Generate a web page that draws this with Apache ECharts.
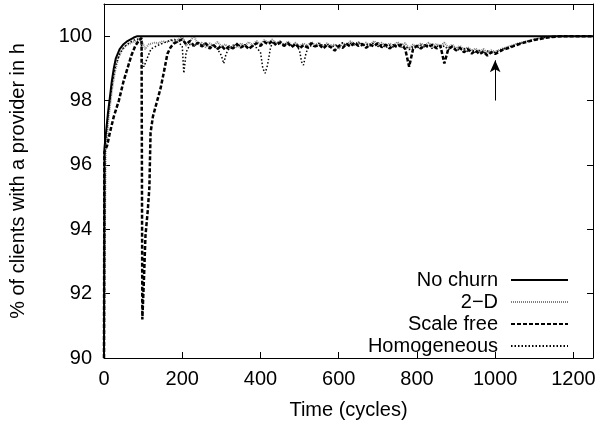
<!DOCTYPE html>
<html>
<head>
<meta charset="utf-8">
<script src="https://cdn.jsdelivr.net/npm/echarts@6/dist/echarts.min.js"></script>
<style>
  html, body { margin: 0; padding: 0; background: #fff; }
  #chart { width: 601px; height: 425px; }
</style>
</head>
<body>
<div id="chart"></div>
<script>
// data: [cycle, % of clients with a provider]
const noChurn = [
  [0, 90], [1, 96.5], [5, 97.0], [10, 97.6], [15, 98.1], [20, 98.6], [25, 99.0],
  [30, 99.3], [40, 99.6], [50, 99.75], [60, 99.85], [75, 99.95], [85, 100], [1250, 100]
];

const twoD = [
  [0, 90], [4, 96.5], [8, 96.9], [12, 97.5], [20, 98.3], [28, 98.9], [36, 99.3],
  [45, 99.55], [55, 99.7], [70, 99.8], [85, 99.85], [95, 99.9], [105, 99.6],
  [115, 99.75], [130, 99.8],
  [140, 99.78], [150, 99.85], [160, 99.8], [170, 99.88], [180, 99.82], [190, 99.9],
  [200, 100.0], [210, 99.7], [220, 99.85], [230, 100.0], [240, 99.75], [250, 99.8],
  [260, 99.65], [270, 99.78], [280, 99.7], [290, 99.82], [300, 99.68], [310, 99.75],
  [320, 99.6], [330, 99.72], [340, 99.65], [350, 99.78], [360, 99.7], [370, 99.82],
  [380, 99.72], [390, 99.85], [400, 99.75], [410, 99.88], [420, 99.8], [430, 99.9],
  [440, 99.78], [450, 99.85], [460, 99.72], [470, 99.84], [480, 99.7], [490, 99.8],
  [500, 99.68], [510, 99.78], [520, 99.7], [530, 99.82], [540, 99.72], [550, 99.8],
  [560, 99.66], [570, 99.78], [580, 99.7], [590, 99.75], [600, 99.6], [610, 99.78],
  [620, 99.72], [630, 99.84], [640, 99.75], [650, 99.82], [660, 99.7], [670, 99.8],
  [680, 99.72], [690, 99.85], [700, 99.74], [710, 99.8], [720, 99.68], [730, 99.78],
  [740, 99.7], [750, 99.82], [760, 99.72], [770, 99.78], [780, 99.62], [790, 99.74],
  [800, 99.66], [810, 99.78], [820, 99.7], [830, 99.8], [840, 99.68], [850, 99.76],
  [860, 99.7], [870, 99.8], [880, 99.65], [890, 99.74], [900, 99.62], [910, 99.7],
  [920, 99.58], [930, 99.66], [940, 99.55], [950, 99.62], [960, 99.5], [970, 99.6],
  [980, 99.48], [990, 99.56], [1000, 99.52],
  [1020, 99.62], [1040, 99.7], [1060, 99.78], [1080, 99.84], [1100, 99.9],
  [1120, 99.95], [1140, 99.98], [1160, 100], [1250, 100]
];

const scaleFree = [
  [0, 90], [1, 96.4], [8, 96.6], [15, 97.0], [25, 97.5], [38, 98.0], [50, 98.6],
  [60, 99.0], [70, 99.4], [80, 99.7], [90, 99.88], [96, 99.95],
  [98, 91.2], [102, 92.4], [106, 93.8], [112, 94.6], [116, 95.3], [119, 97.0],
  [125, 97.5], [135, 97.95], [145, 98.4], [155, 99.0], [162, 99.45], [170, 99.65],
  [178, 99.77], [190, 99.85],
  [200, 99.9], [210, 99.75], [220, 99.85], [230, 99.7], [240, 99.8], [250, 99.68],
  [260, 99.78], [270, 99.62], [280, 99.72], [290, 99.6], [300, 99.7], [310, 99.58],
  [320, 99.68], [330, 99.62], [340, 99.75], [350, 99.65], [360, 99.72], [370, 99.6],
  [380, 99.7], [390, 99.78], [400, 99.7], [410, 99.82], [420, 99.75], [430, 99.85],
  [440, 99.72], [450, 99.8], [460, 99.7], [470, 99.78], [480, 99.66], [490, 99.76],
  [500, 99.62], [510, 99.72], [520, 99.65], [530, 99.78], [540, 99.68], [550, 99.74],
  [560, 99.62], [570, 99.72], [580, 99.66], [590, 99.55], [600, 99.7], [610, 99.64],
  [620, 99.76], [630, 99.68], [640, 99.8], [650, 99.7], [660, 99.76], [670, 99.64],
  [680, 99.74], [690, 99.68], [700, 99.78], [710, 99.66], [720, 99.74], [730, 99.62],
  [740, 99.72], [750, 99.66], [760, 99.74], [770, 99.6], [780, 99.05], [790, 99.6],
  [800, 99.7], [810, 99.62], [820, 99.72], [830, 99.66], [840, 99.74], [850, 99.62],
  [860, 99.7], [870, 99.15], [880, 99.6], [890, 99.68], [900, 99.56], [910, 99.64],
  [920, 99.5], [930, 99.6], [940, 99.46], [950, 99.56], [960, 99.44], [970, 99.52],
  [980, 99.4], [990, 99.5], [1000, 99.45],
  [1020, 99.58], [1040, 99.66], [1060, 99.75], [1080, 99.82], [1100, 99.88],
  [1120, 99.93], [1140, 99.97], [1170, 100], [1250, 100]
];

const homogeneous = [
  [0, 90], [2, 96.6], [5, 96.9], [10, 97.5], [15, 98.0], [22, 98.6], [30, 99.1],
  [40, 99.45], [50, 99.65], [65, 99.8], [80, 99.9], [95, 99.92], [98, 99.2],
  [102, 99.05], [110, 99.3], [120, 99.6], [135, 99.7], [150, 99.78], [165, 99.85],
  [180, 99.9], [190, 99.8],
  [200, 99.7], [204, 98.85], [210, 99.5], [220, 99.75], [230, 99.68], [240, 99.8],
  [250, 99.72], [260, 99.78], [270, 99.66], [280, 99.74], [290, 99.6], [300, 99.4],
  [306, 99.15], [312, 99.45], [320, 99.62], [330, 99.7], [340, 99.78], [350, 99.66],
  [360, 99.74], [370, 99.62], [380, 99.7], [390, 99.64], [400, 99.5], [406, 99.0],
  [412, 98.85], [418, 99.1], [425, 99.6], [430, 99.8], [440, 99.74], [450, 99.85],
  [460, 99.72], [470, 99.8], [480, 99.7], [490, 99.76], [500, 99.55], [505, 99.2],
  [510, 99.1], [515, 99.4], [520, 99.6], [530, 99.72], [540, 99.66], [550, 99.78],
  [560, 99.7], [570, 99.76], [580, 99.64], [590, 99.72], [600, 99.7], [610, 99.8],
  [620, 99.7], [630, 99.78], [640, 99.72], [650, 99.82], [660, 99.68], [670, 99.76],
  [680, 99.7], [690, 99.8], [700, 99.68], [710, 99.74], [720, 99.64], [730, 99.72],
  [740, 99.66], [750, 99.76], [760, 99.66], [770, 99.7], [780, 99.58], [790, 99.68],
  [800, 99.62], [810, 99.72], [820, 99.66], [830, 99.74], [840, 99.6], [850, 99.7],
  [860, 99.64], [870, 99.7], [880, 99.58], [890, 99.66], [900, 99.6], [910, 99.56],
  [920, 99.62], [930, 99.52], [940, 99.58], [950, 99.5], [960, 99.56], [970, 99.46],
  [980, 99.54], [990, 99.48], [1000, 99.5],
  [1020, 99.6], [1040, 99.68], [1060, 99.76], [1080, 99.83], [1100, 99.9],
  [1120, 99.95], [1140, 99.98], [1160, 100], [1250, 100]
];

// arrow marking the end of churn
const arrowFrom = [1000, 98.0];
const arrowTo = [1000, 99.25];

const font = 'Liberation Sans';
const fs = 20;

let chart = echarts.init(document.getElementById('chart'));

let innerTick = { show: true, inside: true, length: 6, lineStyle: { color: '#000' } };
let blackLine = { show: true, onZero: false, lineStyle: { color: '#000', width: 1 } };
let plainNum = v => String(v);

let lineSeries = (name, data, color, width, type, z) => ({
  name: name,
  type: 'line',
  data: data,
  symbol: 'none',
  z: z,
  lineStyle: { color: color, width: width, type: type },
  itemStyle: { color: color }
});

let option = {
  animation: false,
  backgroundColor: '#fff',
  textStyle: { fontFamily: font },
  grid: { left: 103, right: 8, top: 4, bottom: 67 },
  legend: {
    orient: 'vertical',
    right: 27,
    top: 265,
    align: 'right',
    itemWidth: 57,
    itemHeight: 14,
    itemGap: 2,
    itemStyle: { opacity: 0 },
    textStyle: { fontFamily: font, fontSize: fs, color: '#000', padding: [0, 8, 0, 0] },
    data: ['No churn', '2\u2212D', 'Scale free', 'Homogeneous']
  },
  xAxis: [{
    type: 'value',
    min: 0, max: 1250, interval: 200,
    name: 'Time (cycles)',
    nameLocation: 'middle',
    nameGap: 42,
    nameTextStyle: { fontFamily: font, fontSize: fs, color: '#000' },
    axisLine: blackLine,
    axisTick: innerTick,
    axisLabel: { color: '#000', fontFamily: font, fontSize: fs, margin: 11, showMaxLabel: false, formatter: plainNum },
    splitLine: { show: false }
  }, {
    type: 'value',
    position: 'top',
    min: 0, max: 1250, interval: 200,
    axisLine: blackLine,
    axisTick: innerTick,
    axisLabel: { show: false },
    splitLine: { show: false }
  }],
  yAxis: [{
    type: 'value',
    min: 90, max: 101, interval: 2,
    name: '% of clients with a provider in h',
    nameLocation: 'middle',
    nameGap: 76,
    nameTextStyle: { fontFamily: font, fontSize: fs, color: '#000' },
    axisLine: blackLine,
    axisTick: innerTick,
    axisLabel: { color: '#000', fontFamily: font, fontSize: fs, margin: 12, showMaxLabel: false, formatter: plainNum },
    splitLine: { show: false }
  }, {
    type: 'value',
    position: 'right',
    min: 90, max: 101, interval: 2,
    axisLine: blackLine,
    axisTick: innerTick,
    axisLabel: { show: false },
    splitLine: { show: false }
  }],
  series: [
    lineSeries('No churn', noChurn, '#000', 2, 'solid', 5),
    lineSeries('2\u2212D', twoD, '#808080', 2, [1, 1], 3),
    Object.assign(lineSeries('Scale free', scaleFree, '#000', 2.5, [4, 2], 4), {
      markLine: {
        silent: true,
        symbol: ['none', 'arrow'],
        symbolSize: [8, 12],
        label: { show: false },
        lineStyle: { color: '#000', width: 1, type: 'solid' },
        data: [[{ coord: arrowFrom }, { coord: arrowTo }]]
      }
    }),
    lineSeries('Homogeneous', homogeneous, '#000', 1.5, [1.5, 2], 4)
  ]
};

chart.setOption(option);
</script>
</body>
</html>
